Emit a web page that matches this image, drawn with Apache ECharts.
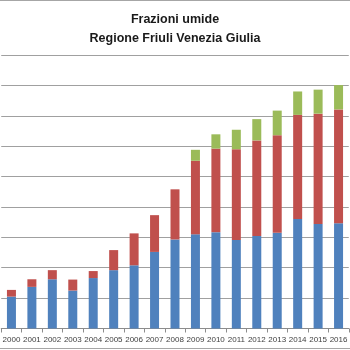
<!DOCTYPE html>
<html>
<head>
<meta charset="utf-8">
<script src="https://cdn.jsdelivr.net/npm/echarts@6/dist/echarts.min.js"></script>
<style>html,body{margin:0;padding:0;background:#fff}#c{width:350px;height:350px}</style>
</head>
<body>
<div id="c"></div>
<script>
var titleLines = ['Frazioni umide', 'Regione Friuli Venezia Giulia'];
var years = ['2000','2001','2002','2003','2004','2005','2006','2007','2008','2009','2010','2011','2012','2013','2014','2015','2016'];
var blueVals  = [1.05,1.37,1.62,1.25,1.66,1.92,2.08,2.52,2.93,3.10,3.17,2.91,3.04,3.15,3.60,3.44,3.46];
var redVals   = [0.22,0.25,0.30,0.36,0.23,0.66,1.05,1.21,1.65,2.42,2.75,2.99,3.15,3.21,3.43,3.63,3.75];
var greenVals = [null,null,null,null,null,null,null,null,null,0.36,0.47,0.64,0.70,0.81,0.77,0.79,0.80];
var yMin = 0, yMax = 9, yStep = 1;

var chart = echarts.init(document.getElementById('c'), null, {renderer:'canvas'});
chart.setOption({
  animation: false,
  backgroundColor: '#fff',
  title: {
    text: titleLines.join('\n'),
    left: 'center', top: 5,
    textStyle: {fontFamily: 'Liberation Sans', fontWeight: 'bold', fontSize: 12.5, color: '#1a1a1a', lineHeight: 19}
  },
  graphic: [{
    type: 'rect', shape: {x: -5, y: 0.5, width: 360, height: 348}, silent: true,
    style: {fill: 'none', stroke: '#a6a6a6', lineWidth: 1}
  }],
  grid: {left: -4, right: -9, top: 55, bottom: 21.5, containLabel: false},
  xAxis: {
    type: 'category', data: years,
    axisLine: {lineStyle: {color: '#8c8c8c'}},
    axisTick: {show: true, length: 4, lineStyle: {color: '#8c8c8c'}},
    axisLabel: {interval: 0, fontFamily: 'Liberation Sans', fontSize: 8, color: '#404040', margin: 7}
  },
  yAxis: {
    type: 'value', min: yMin, max: yMax, interval: yStep,
    axisLabel: {show: false}, axisLine: {show: false}, axisTick: {show: false},
    splitLine: {lineStyle: {color: '#a0a0a0', width: 1}}
  },
  series: [
    {type: 'bar', stack: 's', data: blueVals, barWidth: 9, itemStyle: {color: '#4F81BD'}},
    {type: 'bar', stack: 's', data: redVals, barWidth: 9, itemStyle: {color: '#C0504D'}},
    {type: 'bar', stack: 's', data: greenVals, barWidth: 9, itemStyle: {color: '#9BBB59'}}
  ]
});
</script>
</body>
</html>
